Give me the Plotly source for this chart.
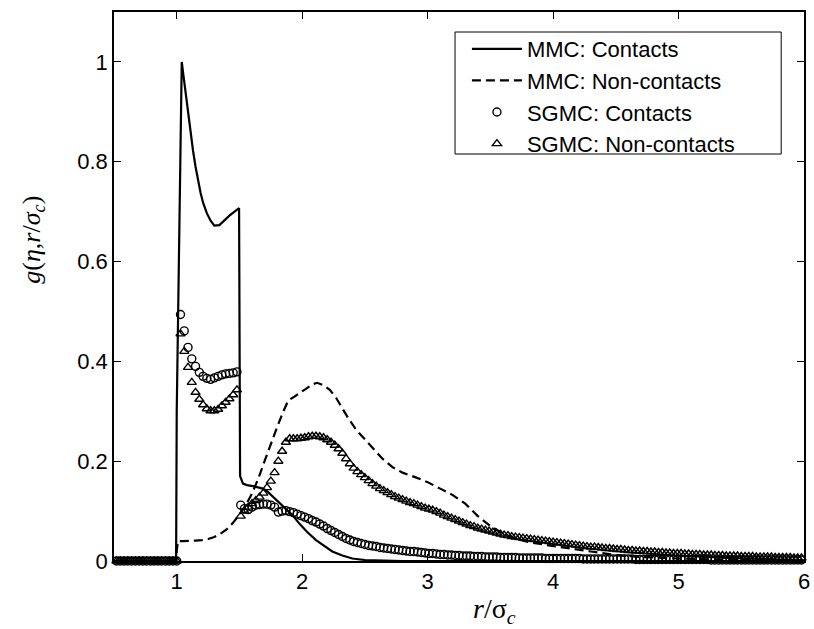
import numpy as np
import plotly.graph_objects as go

# ---------------- data ----------------
# MMC: Contacts (solid line)
mmc_c_x = [0.5, 0.995, 1.0, 1.04, 1.054, 1.07, 1.09, 1.11, 1.13, 1.15, 1.17, 1.19, 1.21, 1.24, 1.27, 1.30, 1.34,
           1.42, 1.497, 1.502, 1.505, 1.528, 1.56, 1.608, 1.687, 1.72, 1.766, 1.82, 1.872, 1.93, 1.977,
           2.04, 2.11, 2.18, 2.24, 2.32, 2.40, 2.50, 2.60, 2.80, 3.0, 4.0, 5.0, 6.0]
mmc_c_y = [0.0, 0.0, 0.30, 1.0, 0.972, 0.938, 0.898, 0.858, 0.822, 0.790, 0.762, 0.738, 0.718, 0.697, 0.682,
           0.672, 0.673, 0.692, 0.707, 0.40, 0.17, 0.155, 0.152, 0.150, 0.145, 0.140, 0.129, 0.117, 0.105,
           0.090, 0.075, 0.058, 0.042, 0.029, 0.019, 0.011, 0.005, 0.002, 0.001, 0.0, 0.0, 0.0, 0.0, 0.0]

# MMC: Non-contacts (dashed line)
mmc_n_x = [0.5, 0.995, 1.0, 1.01, 1.05, 1.10, 1.15, 1.20, 1.25, 1.30, 1.35, 1.40, 1.45, 1.50,
           1.55, 1.60, 1.65, 1.70, 1.75, 1.80, 1.85, 1.89, 1.93, 1.98, 2.03, 2.08, 2.12,
           2.17, 2.22, 2.27, 2.32, 2.37, 2.43, 2.50, 2.57, 2.64, 2.72, 2.80, 2.90, 3.00,
           3.10, 3.20, 3.30, 3.40, 3.50, 3.60, 3.70, 3.80, 3.95, 4.1, 4.3, 4.5, 4.7, 5.0,
           5.5, 6.0]
mmc_n_y = [0.0, 0.0, 0.02, 0.04, 0.040, 0.040, 0.041, 0.042, 0.044, 0.048, 0.055, 0.064, 0.077, 0.093,
           0.112, 0.135, 0.165, 0.200, 0.235, 0.268, 0.300, 0.322, 0.328, 0.336, 0.345, 0.354, 0.357,
           0.352, 0.343, 0.327, 0.306, 0.285, 0.263, 0.243, 0.223, 0.205, 0.188, 0.177, 0.168, 0.158,
           0.145, 0.132, 0.115, 0.090, 0.070, 0.055, 0.045, 0.038, 0.032, 0.026, 0.019, 0.012, 0.008, 0.005,
           0.002, 0.001]

# SGMC samples: grid starts at 0.52 with spacing 0.03
sgmc_x0 = 0.52
sgmc_dx = 0.03

# SGMC: Contacts (circles)
sgmc_c_y = (
    [0.0] * 17 +
    [0.494, 0.461, 0.428, 0.405, 0.390, 0.378, 0.370, 0.366, 0.364, 0.367, 0.370, 0.373, 0.375, 0.376, 0.377, 0.379] +
    [0.112, 0.105, 0.103, 0.108, 0.112, 0.113, 0.114, 0.114, 0.112, 0.108,
     0.098, 0.100, 0.101, 0.099, 0.097, 0.094, 0.091, 0.088, 0.085, 0.081,
     0.078, 0.074, 0.070, 0.065, 0.061, 0.057, 0.053, 0.049, 0.045, 0.042,
     0.039, 0.037, 0.035, 0.033, 0.031, 0.030, 0.029, 0.027, 0.026, 0.025,
     0.024, 0.023, 0.022, 0.021, 0.020, 0.019, 0.019, 0.018, 0.017, 0.016] +
    [0.015, 0.015, 0.014, 0.013, 0.013, 0.012, 0.012, 0.011, 0.011, 0.010,
     0.010, 0.010, 0.009, 0.009, 0.009, 0.008, 0.008, 0.008, 0.008, 0.007,
     0.007, 0.007, 0.007, 0.007, 0.006, 0.006, 0.006, 0.006, 0.006, 0.006,
     0.006, 0.005, 0.005, 0.005, 0.005, 0.005, 0.005, 0.005, 0.005, 0.005,
     0.005, 0.004, 0.004, 0.004, 0.004, 0.004, 0.004, 0.004, 0.004, 0.004,
     0.004, 0.004, 0.004, 0.004, 0.004, 0.003, 0.003, 0.003, 0.003, 0.003,
     0.003, 0.003, 0.003, 0.003, 0.003, 0.003, 0.003, 0.003, 0.003, 0.003,
     0.003, 0.003, 0.003, 0.003, 0.003, 0.002, 0.002, 0.002, 0.002, 0.002,
     0.002, 0.002, 0.002, 0.002, 0.002, 0.002, 0.002, 0.002, 0.002, 0.002,
     0.002, 0.002, 0.002, 0.002, 0.002, 0.002, 0.002, 0.002, 0.002, 0.002]
)

# SGMC: Non-contacts (triangles)
sgmc_n_y = (
    [0.0] * 17 +
    [0.455, 0.420, 0.388, 0.358, 0.338, 0.324, 0.313, 0.305, 0.301, 0.301, 0.304, 0.311, 0.318, 0.325, 0.333, 0.343] +
    [0.090, 0.100, 0.108, 0.115, 0.121, 0.128, 0.136, 0.147, 0.160, 0.177,
     0.200, 0.220, 0.238, 0.245, 0.245, 0.245, 0.246, 0.247, 0.249, 0.250,
     0.250, 0.249, 0.247, 0.243, 0.238, 0.232, 0.225, 0.216, 0.205, 0.195,
     0.186, 0.179, 0.173, 0.167, 0.161, 0.155, 0.150, 0.145, 0.141, 0.137,
     0.133, 0.129, 0.126, 0.123, 0.120, 0.117, 0.115, 0.112, 0.109, 0.106] +
    [0.104, 0.102, 0.099, 0.096, 0.092, 0.089, 0.086, 0.083, 0.080, 0.077,
     0.074, 0.071, 0.069, 0.066, 0.064, 0.062, 0.060, 0.058, 0.056, 0.054,
     0.052, 0.051, 0.049, 0.048, 0.047, 0.046, 0.045, 0.044, 0.043, 0.042,
     0.041, 0.040, 0.039, 0.038, 0.037, 0.036, 0.035, 0.034, 0.033, 0.032,
     0.031, 0.030, 0.029, 0.028, 0.028, 0.027, 0.026, 0.025, 0.025, 0.024,
     0.023, 0.023, 0.022, 0.021, 0.021, 0.020, 0.020, 0.019, 0.019, 0.018,
     0.018, 0.017, 0.017, 0.016, 0.016, 0.015, 0.015, 0.015, 0.014, 0.014,
     0.013, 0.013, 0.013, 0.012, 0.012, 0.012, 0.011, 0.011, 0.011, 0.010,
     0.010, 0.010, 0.010, 0.009, 0.009, 0.009, 0.009, 0.008, 0.008, 0.008,
     0.008, 0.008, 0.007, 0.007, 0.007, 0.007, 0.007, 0.006, 0.006, 0.006]
)

sgmc_x = np.round(sgmc_x0 + sgmc_dx * np.arange(len(sgmc_c_y)), 3)

x_ticks = [1, 2, 3, 4, 5, 6]
y_ticks = [0, 0.2, 0.4, 0.6, 0.8, 1]
y_tick_labels = ["0", "0.2", "0.4", "0.6", "0.8", "1"]

# ---------------- figure ----------------
fig = go.Figure()

fig.add_trace(go.Scatter(
    x=mmc_c_x, y=mmc_c_y, mode="lines", name="MMC: Contacts",
    line=dict(color="black", width=2.2)))
fig.add_trace(go.Scatter(
    x=mmc_n_x, y=mmc_n_y, mode="lines", name="MMC: Non-contacts",
    line=dict(color="black", width=2.2, dash="9px,5px")))
fig.add_trace(go.Scatter(
    x=sgmc_x, y=sgmc_c_y, mode="markers", name="SGMC: Contacts", cliponaxis=False,
    marker=dict(symbol="circle-open", size=8, color="black", line=dict(width=1.4, color="black"))))
fig.add_trace(go.Scatter(
    x=sgmc_x, y=sgmc_n_y, mode="markers", name="SGMC: Non-contacts", cliponaxis=False,
    marker=dict(symbol="triangle-up-open", size=8, color="black", line=dict(width=1.4, color="black"))))

axis_common = dict(
    showline=True, linecolor="black", linewidth=1.5, mirror="ticks",
    ticks="inside", ticklen=7, tickwidth=1, tickcolor="black",
    showgrid=False, zeroline=False, ticklabeloverflow="allow",
    tickfont=dict(family="Liberation Sans, Arial, sans-serif", size=22, color="black"),
)

plot_l, plot_r, plot_t, plot_b = 114, 810, 12, 561
pw, ph = plot_r - plot_l, plot_b - plot_t


def px_x(px):
    return (px - plot_l) / pw


def px_y(py):
    return (plot_b - py) / ph


fig.update_layout(
    width=814, height=629,
    margin=dict(l=114, r=4, t=12, b=68),
    paper_bgcolor="white", plot_bgcolor="white",
    showlegend=True,
    legend=dict(
        x=px_x(470), y=px_y(28), xanchor="left", yanchor="top",
        borderwidth=0, bgcolor="rgba(0,0,0,0)",
        font=dict(family="Liberation Sans, Arial, sans-serif", size=22, color="black"),
        tracegroupgap=0, itemwidth=50,
    ),
    xaxis=dict(range=[0.5, 6], tickvals=x_ticks, ticktext=[str(t) for t in x_ticks], **axis_common),
    yaxis=dict(range=[0, 1.1], tickvals=y_ticks, ticktext=y_tick_labels, **axis_common),
)

# legend frame
fig.add_shape(type="rect", xref="paper", yref="paper",
              x0=px_x(458), x1=px_x(787), y0=px_y(154), y1=px_y(32),
              line=dict(color="black", width=1), fillcolor="rgba(0,0,0,0)", layer="above")

# axis titles as annotations (serif, math-like)
fig.add_annotation(
    x=px_x(498), y=px_y(610), xref="paper", yref="paper", showarrow=False,
    xanchor="center", yanchor="middle",
    text="<i>r</i>/σ<sub><i>c</i></sub>",
    font=dict(family="Liberation Serif, Times New Roman, serif", size=28, color="black"),
)
fig.add_annotation(
    x=px_x(32), y=px_y(240), xref="paper", yref="paper", showarrow=False, textangle=-90,
    xanchor="center", yanchor="middle",
    text="<i>g</i>(<i>η</i>,<i>r</i>/<i>σ</i><sub><i>c</i></sub>)",
    font=dict(family="Liberation Serif, Times New Roman, serif", size=26, color="black"),
)

fig.write_html("out.html")
